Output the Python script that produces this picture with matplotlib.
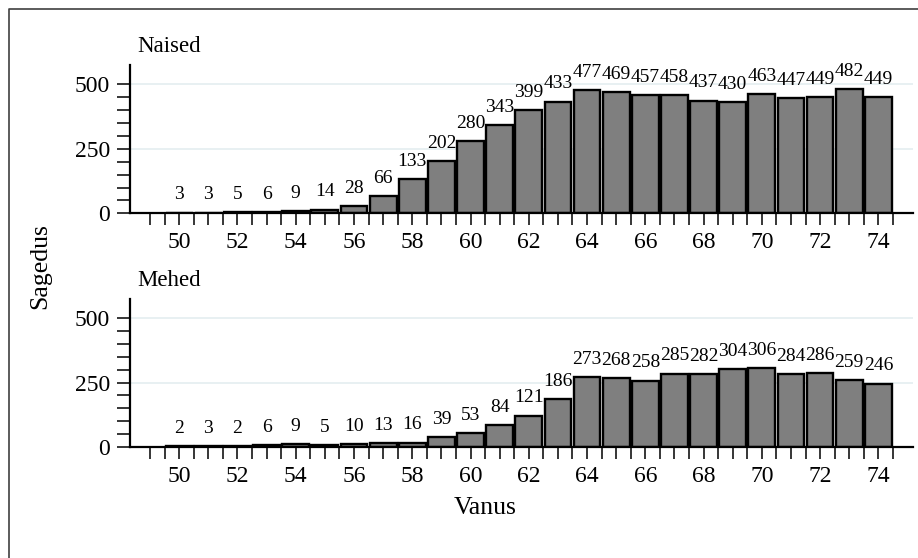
import numpy as np
import matplotlib
matplotlib.use("Agg")
import matplotlib.pyplot as plt
from matplotlib.lines import Line2D

ages = list(range(50, 75))
naised = [3, 3, 5, 6, 9, 14, 28, 66, 133, 202, 280, 343, 399, 433, 477,
          469, 457, 458, 437, 430, 463, 447, 449, 482, 449]
mehed = [2, 3, 2, 6, 9, 5, 10, 13, 16, 39, 53, 84, 121, 186, 273,
         268, 258, 285, 282, 304, 306, 284, 286, 259, 246]
panels = [("Naised", naised), ("Mehed", mehed)]
xlabel = "Vanus"
ylabel = "Sagedus"

plt.rcParams['font.family'] = ['Liberation Serif', 'DejaVu Serif']

W, H = 918, 558
fig = plt.figure(figsize=(W / 100, H / 100), dpi=100)
fig.patch.set_facecolor('white')

def fx(px):
    return px / W

def fy(py):
    return 1 - py / H

boxes = [(64.7, 213.3), (299.0, 446.7)]
left_px, right_px = 130, 913

xtick_pos = np.arange(49, 75, 0.5)
xtick_lab = [str(int(t)) if (t == int(t) and int(t) % 2 == 0) else "" for t in xtick_pos]

for (title, vals), (top, bot) in zip(panels, boxes):
    ax = fig.add_axes([fx(left_px), fy(bot), fx(right_px) - fx(left_px), fy(top) - fy(bot)])
    ax.set_xlim(48.31, 75.19)
    ax.set_ylim(0, 576)
    for g in (250, 500):
        ax.axhline(g, color='#e6eff1', lw=1.3, zorder=0)
    ax.bar(ages, vals, width=0.92, color='#7f7f7f', edgecolor='black',
           linewidth=1.7, zorder=2)
    for a, v in zip(ages, vals):
        ax.annotate(str(v), (a, v), xytext=(0, 9.5), textcoords='offset points',
                    ha='center', va='baseline', fontsize=14)
    for s in ('top', 'right'):
        ax.spines[s].set_visible(False)
    for s in ('left', 'bottom'):
        ax.spines[s].set_linewidth(1.6)
        ax.spines[s].set_zorder(4)
    ax.set_xticks(xtick_pos)
    ax.set_xticklabels(xtick_lab, fontsize=17)
    ax.set_yticks([0, 250, 500])
    ax.set_yticklabels(['0', '250', '500'], fontsize=17)
    ax.set_yticks(np.arange(0, 501, 50), minor=True)
    ax.tick_params(axis='x', length=8.6, width=1.1, pad=5)
    ax.tick_params(axis='y', which='both', length=9.4, width=1.1, pad=5)
    ax.set_facecolor('none')
    fig.text(fx(137), fy(top - 18), title, fontsize=16.5, ha='left', va='center')

fig.text(fx(40), fy(266), ylabel, rotation=90, fontsize=18.5, ha='center', va='center')
fig.text(fx(485), fy(508), xlabel, fontsize=18.5, ha='center', va='center')

fig.add_artist(Line2D([fx(9), fx(9), 1.0], [0.0, fy(9), fy(9)],
                      transform=fig.transFigure, color='#404040', lw=1.2))

fig.savefig('out.png', dpi=100)
